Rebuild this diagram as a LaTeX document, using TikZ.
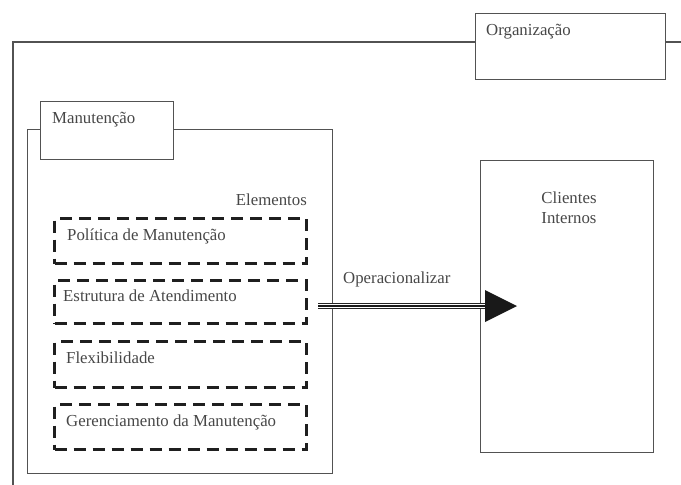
\documentclass[tikz,border=0pt]{standalone}
\usepackage{fontspec}
\setmainfont{Liberation Serif}
\begin{document}
\begin{tikzpicture}[x=1pt,y=1pt,
  frame/.style={draw=black!68,line width=1.4pt},
  box/.style={frame,fill=white,inner sep=0pt},
  dbox/.style={draw=black!88,line width=3.2pt,dash pattern=on 12pt off 7pt,inner sep=0pt,anchor=north west,minimum width=252pt},
  txt/.style={text=black!72,inner sep=0pt,font=\fontsize{16.8}{20}\selectfont}]
\useasboundingbox (0,0) rectangle (681,-485);
% outer organisation frame
\coordinate (oTR) at (681,-42);
\coordinate (oTL) at (13,-42);
\coordinate (oBL) at (13,-485);
\draw[frame] (oTR) -- (oTL) -- (oBL);
\node[box,anchor=north west,minimum width=190pt,minimum height=66pt] (org) at (475,-13) {};
\node[txt,anchor=base west] (orgT) at (486,-35) {Organização};
% maintenance frame
\node[frame,inner sep=0pt,anchor=north west,minimum width=305pt,minimum height=344pt] (man) at (27,-129) {};
\node[box,anchor=north west,minimum width=133pt,minimum height=58pt] (manB) at (40,-101) {};
\node[txt,anchor=base west] (manT) at (52,-123) {Manutenção};
\node[txt,anchor=base east] (elem) at (307,-205) {Elementos};
% dashed element boxes
\node[dbox,minimum height=45pt] (e1) at (53,-217) {};
\node[dbox,minimum height=43pt] (e2) at (53,-279) {};
\node[dbox,minimum height=46pt] (e3) at (53,-340) {};
\node[dbox,minimum height=45pt] (e4) at (53,-403) {};
\node[txt,anchor=base west] (e1T) at (67,-240) {Política de Manutenção};
\node[txt,anchor=base west] (e2T) at (63,-301) {Estrutura de Atendimento};
\node[txt,anchor=base west] (e3T) at (66,-363) {Flexibilidade};
\node[txt,anchor=base west] (e4T) at (66,-426) {Gerenciamento da Manutenção};
% clients
\node[frame,inner sep=0pt,anchor=north west,minimum width=173pt,minimum height=292pt] (cli) at (480,-160) {};
\node[txt,anchor=base,align=center] (cliT) at (569,-223) {Clientes\\Internos};
% arrow
\coordinate (aS) at (318,-306);
\coordinate (aB) at (486,-306);
\coordinate (aE) at (517,-306);
\draw[black!85,line width=6.6pt] (aS) -- (aB);
\draw[white,line width=3.6pt] (aS) -- (aB);
\draw[black!90,line width=1.2pt] (aS) -- (aB);
\fill[black!90] (485,-290) -- (aE) -- (485,-322) -- cycle;
\node[txt,anchor=base west] (op) at (343,-283) {Operacionalizar};
\end{tikzpicture}
\end{document}
